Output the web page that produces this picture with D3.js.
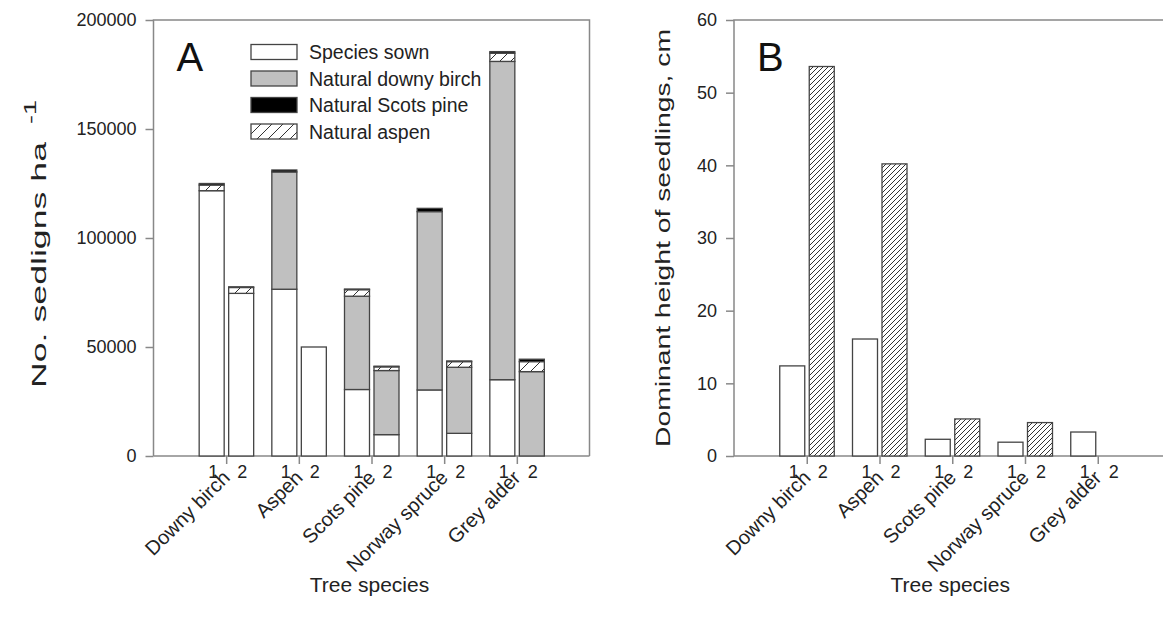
<!DOCTYPE html>
<html>
<head>
<meta charset="utf-8">
<script src="https://cdn.jsdelivr.net/npm/d3@7"></script>
<style>
  body { margin: 0; background: #fff; }
  svg { font-family: 'Liberation Sans', Arial, sans-serif; }
  .axis text { font-size: 18px; fill: #222; }
  .axis path, .axis line { stroke: #888; stroke-width: 1.5; }
  .bar { stroke: #444; stroke-width: 1.3; }
</style>
</head>
<body>
<svg width="1163" height="628"></svg>
<script>
const svg = d3.select('svg');

// tree species (categories) and the two sowing plots
const species = ['Downy birch', 'Aspen', 'Scots pine', 'Norway spruce', 'Grey alder'];
const plots = ['1', '2'];

// Panel A: seedlings per ha, plot 1 and plot 2
const sown1 = [121700, 76500, 30500, 30300, 35000];
const sown2 = [74600, 50000, 9800, 10400, 0];
const birch1 = [0, 53800, 42800, 81800, 146000];
const birch2 = [0, 0, 29400, 30300, 38700];
const aspen1 = [2600, 0, 3000, 0, 3800];
const aspen2 = [2700, 0, 1700, 2600, 4600];
const pine1 = [700, 900, 300, 1500, 700];
const pine2 = [300, 0, 300, 300, 1100];

// Panel B: dominant height, cm
const height1 = [12.4, 16.1, 2.3, 1.9, 3.3];
const height2 = [53.6, 40.2, 5.1, 4.6, 0];

const yTicksA = [0, 50000, 100000, 150000, 200000];
const yTicksB = [0, 10, 20, 30, 40, 50, 60];

const legendLabels = ['Species sown', 'Natural downy birch', 'Natural Scots pine', 'Natural aspen'];

// hatch patterns
const defs = svg.append('defs');
const hatch = (id, size) => {
    const p = defs.append('pattern')
        .attr('id', id)
        .attr('patternUnits', 'userSpaceOnUse')
        .attr('width', size).attr('height', size);
    p.append('rect').attr('width', size).attr('height', size).attr('fill', '#fff');
    p.append('path')
        .attr('d', `M0,${size} L${size},0 M${-size / 2},${size / 2} L${size / 2},${-size / 2} M${size / 2},${size * 1.5} L${size * 1.5},${size / 2}`)
        .attr('stroke', '#333').attr('stroke-width', 1);
};
hatch('hatchA', 11);
hatch('hatchB', 5);

const fills = { sown: '#fff', birch: '#c0c0c0', aspen: 'url(#hatchA)', pine: '#000' };

const plotTop = 20, plotBottom = 456;

// axes frame for one panel
const drawFrame = (x0, x1, yScale, ticks, letter) => {
    const xScale = d3.scaleLinear().domain([0, 6]).range([x0, x1]);
    const g = svg.append('g');

    // box
    g.append('path')
        .attr('d', `M${x0},${plotBottom} V${plotTop} H${x1} V${plotBottom}`)
        .attr('fill', 'none').attr('stroke', '#888').attr('stroke-width', 1.5);

    const yAxis = d3.axisLeft(yScale).tickValues(ticks).tickSize(8).tickPadding(9)
        .tickFormat(d3.format('d'));
    g.append('g').attr('class', 'axis')
        .attr('transform', `translate(${x0},0)`)
        .call(yAxis)
        .call(s => s.select('.domain').remove());

    const xAxis = d3.axisBottom(xScale).tickValues([1, 2, 3, 4, 5]).tickSize(8).tickFormat('');
    g.append('g').attr('class', 'axis')
        .attr('transform', `translate(0,${plotBottom})`)
        .call(xAxis)
        .call(s => s.select('.domain').attr('d', `M${x0},0 H${x1}`));

    // plot numbers and species names under bars
    species.forEach((s, i) => {
        plots.forEach((p, j) => {
            g.append('text')
                .attr('x', xScale(i + 1) + (j === 0 ? -13 : 16))
                .attr('y', plotBottom + 22)
                .attr('text-anchor', 'middle')
                .attr('font-size', 18)
                .attr('fill', '#222')
                .text(p);
        });
        g.append('text')
            .attr('transform', `translate(${xScale(i + 1) + 5},${plotBottom + 23}) rotate(-45)`)
            .attr('text-anchor', 'end')
            .attr('font-size', 20)
            .attr('fill', '#222')
            .text(s);
    });

    g.append('text')
        .attr('x', xScale(3) - 2)
        .attr('y', 592)
        .attr('text-anchor', 'middle')
        .attr('font-size', 21)
        .attr('fill', '#222')
        .text('Tree species');

    g.append('text')
        .attr('x', x0 + 23).attr('y', 71)
        .attr('font-size', 40)
        .attr('fill', '#111')
        .text(letter);

    return { g, xScale };
};

// rotated y label, stretched along its baseline like the original export
const yLabel = (x, yStart, len, text) => svg.append('text')
    .attr('transform', `translate(${x},${yStart}) rotate(-90)`)
    .attr('font-size', 21)
    .attr('fill', '#222')
    .attr('textLength', len)
    .attr('lengthAdjust', 'spacingAndGlyphs')
    .text(text);

// ---------- Panel A ----------
const yA = d3.scaleLinear().domain([0, 200000]).range([plotBottom, plotTop]);
const panelA = drawFrame(153.5, 589.5, yA, yTicksA, 'A');
yLabel(46, 388, 246, 'No. sedligns ha');
svg.append('text')
    .attr('transform', `translate(36,124) rotate(-90)`)
    .attr('font-size', 17)
    .attr('fill', '#222')
    .attr('textLength', 24)
    .attr('lengthAdjust', 'spacingAndGlyphs')
    .text('-1');

const rowsA = [];
species.forEach((s, i) => {
    rowsA.push({ i, plot: 0, sown: sown1[i], birch: birch1[i], aspen: aspen1[i], pine: pine1[i] });
    rowsA.push({ i, plot: 1, sown: sown2[i], birch: birch2[i], aspen: aspen2[i], pine: pine2[i] });
});
const stackKeys = ['sown', 'birch', 'aspen', 'pine'];
const stacked = d3.stack().keys(stackKeys)(rowsA);

const barW = 25;
const barX = (xScale, d) => xScale(d.i + 1) + (d.plot === 0 ? -27 : 2.5);

stacked.forEach(layer => {
    panelA.g.append('g')
        .selectAll('rect')
        .data(layer.filter(d => d[1] - d[0] > 0))
        .join('rect')
        .attr('class', 'bar')
        .attr('x', d => barX(panelA.xScale, d.data))
        .attr('width', barW)
        .attr('y', d => yA(d[1]))
        .attr('height', d => yA(d[0]) - yA(d[1]))
        .attr('fill', fills[layer.key])
        .attr('stroke-width', layer.key === 'pine' ? 0.6 : 1.3);
});

// legend
const legend = panelA.g.append('g');
const legendFills = [fills.sown, fills.birch, fills.pine, fills.aspen];
legendLabels.forEach((l, k) => {
    const y = 52 + k * 26.5;
    legend.append('rect')
        .attr('class', 'bar')
        .attr('x', 251).attr('y', y - 7.5)
        .attr('width', 46).attr('height', 15)
        .attr('fill', legendFills[k]);
    legend.append('text')
        .attr('x', 309).attr('y', y + 7)
        .attr('font-size', 19.5)
        .attr('fill', '#222')
        .text(l);
});

// ---------- Panel B ----------
const yB = d3.scaleLinear().domain([0, 60]).range([plotBottom, plotTop]);
const panelB = drawFrame(734, 1170.5, yB, yTicksB, 'B');
yLabel(670, 447, 418, 'Dominant height of seedlings, cm');

const rowsB = [];
species.forEach((s, i) => {
    rowsB.push({ i, plot: 0, v: height1[i] });
    rowsB.push({ i, plot: 1, v: height2[i] });
});
panelB.g.append('g')
    .selectAll('rect')
    .data(rowsB.filter(d => d.v > 0))
    .join('rect')
    .attr('class', 'bar')
    .attr('x', d => barX(panelB.xScale, d))
    .attr('width', barW)
    .attr('y', d => yB(d.v))
    .attr('height', d => yB(0) - yB(d.v))
    .attr('fill', d => d.plot === 0 ? '#fff' : 'url(#hatchB)')
    .attr('stroke', '#333');
</script>
</body>
</html>
